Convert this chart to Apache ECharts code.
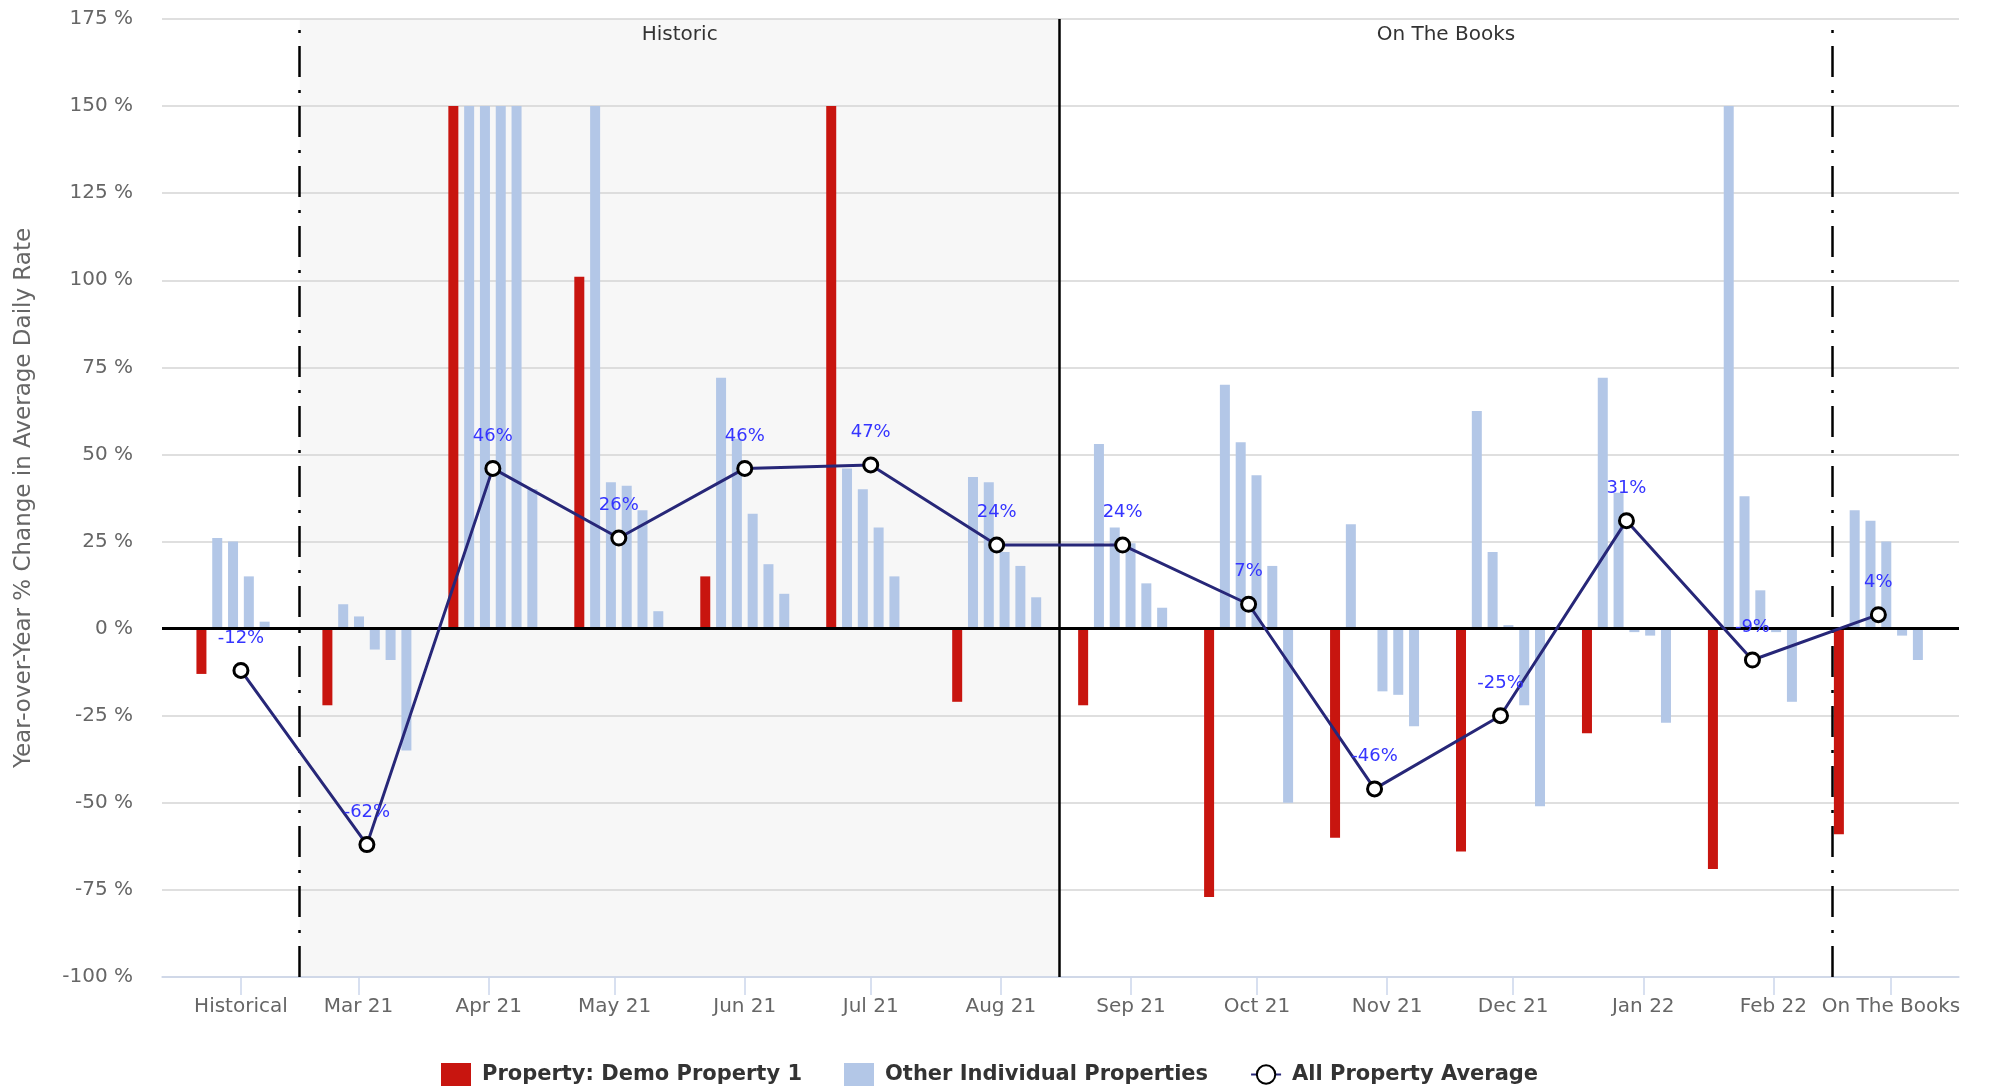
<!DOCTYPE html>
<html>
<head>
<meta charset="utf-8">
<title>Year-over-Year % Change in Average Daily Rate</title>
<script src="https://cdn.jsdelivr.net/npm/echarts@6/dist/echarts.min.js"></script>
<style>
  html, body { margin: 0; padding: 0; background: #fff; }
  #adrChart { width: 1989px; height: 1090px; }
</style>
</head>
<body>
<div id="adrChart"></div>
<script>
// one point every 30 days, first one is the "Historical" bucket
const pointDates = ['2021-02-01', '2021-03-03', '2021-04-02', '2021-05-02', '2021-06-01', '2021-07-01', '2021-07-31',
    '2021-08-30', '2021-09-29', '2021-10-29', '2021-11-28', '2021-12-28', '2022-01-27', '2022-02-26']
const tickDates = ['2021-02-01', '2021-03-01', '2021-04-01', '2021-05-01', '2021-06-01', '2021-07-01', '2021-08-01',
    '2021-09-01', '2021-10-01', '2021-11-01', '2021-12-01', '2022-01-01', '2022-02-01', '2022-03-01']
const tickLabels = ['Historical', 'Mar 21', 'Apr 21', 'May 21', 'Jun 21', 'Jul 21', 'Aug 21',
    'Sep 21', 'Oct 21', 'Nov 21', 'Dec 21', 'Jan 22', 'Feb 22', 'On The Books']
const bandDates = ['2021-02-15', '2021-08-15', '2022-02-15']
const bandNames = ['Historic', 'On The Books']

const demoProperty = [-13, -22, 150, 101, 15, 150, -21, -22, -77, -60, -64, -30, -69, -59]
const otherProp1 = [26, 7, 150, 150, 72, 46, 43.5, 53, 70, 30, 62.5, 72, 150, 34]
const otherProp2 = [25, 3.5, 150, 42, 54.5, 40, 42, 29, 53.5, null, 22, 39, 38, 31]
const otherProp3 = [15, -6, 150, 41, 33, 29, 22, 24.5, 44, -18, 1, -1, 11, 25]
const otherProp4 = [2, -9, 150, 34, 18.5, 15, 18, 13, 18, -19, -22, -2, -1, -2]
const otherProp5 = [null, -35, 40, 5, 10, null, 9, 6, -50, -28, -51, -27, -21, -9]
const allPropertyAverage = [-12, -62, 46, 26, 46, 47, 24, 24, 7, -46, -25, 31, -9, 4]

const font = 'DejaVu Sans'
const origin = Date.parse(pointDates[0])
const toDay = d => (Date.parse(d) - origin) / 86400000
const pointDays = pointDates.map(toDay)
const tickDays = tickDates.map(toDay)
const bandDays = bandDates.map(toDay)

const pairs = values => values
    .map((v, i) => [pointDays[i], v])
    .filter(p => p[1] !== null)

const dashDot = { color: '#000', width: 2.5, type: [31, 13, 3, 13] }

let otherSeries = [otherProp1, otherProp2, otherProp3, otherProp4, otherProp5].map(values => ({
    name: 'Other Individual Properties',
    type: 'bar',
    barWidth: 10,
    barGap: '58%',
    itemStyle: { color: '#b3c7e7' },
    data: pairs(values)
}))

let chart = echarts.init(document.getElementById('adrChart'))
chart.setOption({
    animation: false,
    textStyle: { fontFamily: font },
    grid: { left: 162, right: 30, top: 19, bottom: 113 },
    legend: {
        top: 1058,
        left: 436,
        itemWidth: 30,
        itemHeight: 23,
        itemGap: 42,
        textStyle: { fontFamily: font, fontSize: 21, fontWeight: 'bold', color: '#333', padding: [0, 0, 0, 6] },
        data: [
            { name: 'Property: Demo Property 1', icon: 'rect' },
            { name: 'Other Individual Properties', icon: 'rect' },
            'All Property Average'
        ]
    },
    xAxis: {
        type: 'value',
        min: -18.8,
        max: 409.2,
        splitLine: { show: false },
        axisLine: { onZero: false, lineStyle: { color: '#ccd6eb', width: 1.5 } },
        axisTick: { customValues: tickDays, length: 18, lineStyle: { color: '#ccd6eb', width: 1.5 } },
        axisLabel: {
            customValues: tickDays,
            margin: 20,
            color: '#666',
            fontSize: 20,
            fontFamily: font,
            formatter: v => tickLabels[tickDays.indexOf(v)]
        }
    },
    yAxis: {
        type: 'value',
        min: -100,
        max: 175,
        interval: 25,
        name: 'Year-over-Year % Change in Average Daily Rate',
        nameLocation: 'middle',
        nameGap: 126,
        nameTextStyle: { color: '#666', fontSize: 23, fontFamily: font },
        axisLine: { show: false },
        axisTick: { show: false },
        axisLabel: { formatter: '{value} %', color: '#666', fontSize: 20, fontFamily: font, margin: 29 },
        splitLine: { lineStyle: { color: '#d4d4d4', width: 1.5 } }
    },
    series: [
        {
            name: 'Property: Demo Property 1',
            type: 'bar',
            barWidth: 10,
            barGap: '58%',
            itemStyle: { color: '#c8150f' },
            data: pairs(demoProperty)
        },
        ...otherSeries,
        {
            name: 'All Property Average',
            type: 'line',
            z: 6,
            symbol: 'circle',
            symbolSize: 14,
            lineStyle: { color: '#272778', width: 3 },
            itemStyle: { color: '#fff', borderColor: '#000', borderWidth: 3 },
            label: {
                show: true,
                position: 'top',
                distance: 15,
                color: '#3535ff',
                fontSize: 18,
                fontFamily: font,
                formatter: p => p.value[1] + '%'
            },
            data: pairs(allPropertyAverage),
            markArea: {
                z: -1,
                silent: true,
                label: { show: true, position: 'insideTop', distance: 6, color: '#333', fontSize: 20, fontFamily: font },
                data: [
                    [{ xAxis: bandDays[0], name: bandNames[0], itemStyle: { color: '#f7f7f7' } }, { xAxis: bandDays[1] }],
                    [{ xAxis: bandDays[1], name: bandNames[1], itemStyle: { color: 'rgba(0,0,0,0)' } }, { xAxis: bandDays[2] }]
                ]
            },
            markLine: {
                silent: true,
                symbol: 'none',
                label: { show: false },
                data: [
                    { yAxis: 0, lineStyle: { color: '#000', width: 3, type: 'solid' } },
                    { xAxis: bandDays[0], lineStyle: dashDot },
                    { xAxis: bandDays[1], lineStyle: { color: '#000', width: 2.5, type: 'solid' } },
                    { xAxis: bandDays[2], lineStyle: dashDot }
                ]
            }
        }
    ]
})
</script>
</body>
</html>
